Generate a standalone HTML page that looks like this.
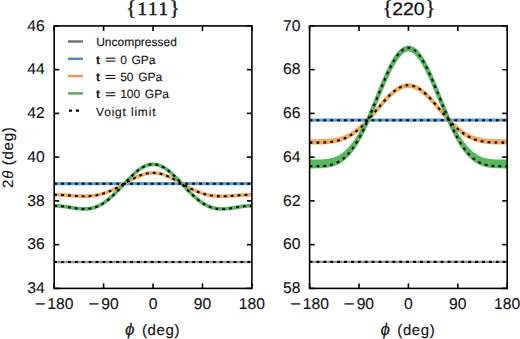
<!DOCTYPE html>
<html><head><meta charset="utf-8"><style>
html,body{margin:0;padding:0;background:#fff;}
body{width:520px;height:339px;overflow:hidden;}
svg{display:block;text-rendering:geometricPrecision;}
text{font-family:"Liberation Sans",sans-serif;fill:#111;stroke:#111;stroke-width:0.12px;}
.tk{font-size:15.7px;}
.lg{font-size:12px;}
.ti{font-size:17.2px;font-family:"Liberation Serif",serif;stroke-width:0.4px;}
.ts{font-size:18px;stroke-width:0.25px;}
.br{font-size:21.2px;font-family:"Liberation Serif",serif;stroke-width:0.3px;}
.ax{font-size:15px;}
</style></head><body>
<svg width="520" height="339" viewBox="0 0 520 339">
<defs></defs>
<g stroke="#000" stroke-width="1.6" fill="none">
<clipPath id="cl"><rect x="54.2" y="25.9" width="197.7" height="262.5"/></clipPath>
<g clip-path="url(#cl)">
<line x1="54.2" x2="251.9" y1="262.0" y2="262.0" stroke="#959595" stroke-width="2.4"/>
<line x1="54.2" x2="251.9" y1="183.7" y2="183.7" stroke="#5C9FD6" stroke-width="3.2"/>
<path d="M54.20,194.81 L55.44,194.81 L56.67,194.83 L57.91,194.86 L59.14,194.89 L60.38,194.94 L61.61,195.00 L62.85,195.06 L64.09,195.13 L65.32,195.21 L66.56,195.30 L67.79,195.38 L69.03,195.47 L70.26,195.57 L71.50,195.66 L72.73,195.75 L73.97,195.84 L75.21,195.93 L76.44,196.01 L77.68,196.08 L78.91,196.14 L80.15,196.19 L81.38,196.23 L82.62,196.26 L83.86,196.27 L85.09,196.27 L86.33,196.25 L87.56,196.21 L88.80,196.14 L90.03,196.06 L91.27,195.95 L92.50,195.82 L93.74,195.67 L94.98,195.49 L96.21,195.28 L97.45,195.05 L98.68,194.79 L99.92,194.50 L101.15,194.18 L102.39,193.83 L103.62,193.46 L104.86,193.06 L106.10,192.63 L107.33,192.17 L108.57,191.68 L109.80,191.17 L111.04,190.64 L112.27,190.07 L113.51,189.49 L114.75,188.89 L115.98,188.26 L117.22,187.62 L118.45,186.96 L119.69,186.29 L120.92,185.60 L122.16,184.91 L123.39,184.21 L124.63,183.50 L125.87,182.80 L127.10,182.09 L128.34,181.39 L129.57,180.70 L130.81,180.02 L132.04,179.35 L133.28,178.70 L134.52,178.07 L135.75,177.46 L136.99,176.88 L138.22,176.33 L139.46,175.81 L140.69,175.32 L141.93,174.88 L143.17,174.47 L144.40,174.10 L145.64,173.78 L146.87,173.51 L148.11,173.28 L149.34,173.11 L150.58,172.98 L151.81,172.90 L153.05,172.88 L154.29,172.90 L155.52,172.98 L156.76,173.11 L157.99,173.28 L159.23,173.51 L160.46,173.78 L161.70,174.10 L162.94,174.47 L164.17,174.88 L165.41,175.32 L166.64,175.81 L167.88,176.33 L169.11,176.88 L170.35,177.46 L171.58,178.07 L172.82,178.70 L174.06,179.35 L175.29,180.02 L176.53,180.70 L177.76,181.39 L179.00,182.09 L180.23,182.80 L181.47,183.50 L182.70,184.21 L183.94,184.91 L185.18,185.60 L186.41,186.29 L187.65,186.96 L188.88,187.62 L190.12,188.26 L191.35,188.89 L192.59,189.49 L193.83,190.07 L195.06,190.64 L196.30,191.17 L197.53,191.68 L198.77,192.17 L200.00,192.63 L201.24,193.06 L202.48,193.46 L203.71,193.83 L204.95,194.18 L206.18,194.50 L207.42,194.79 L208.65,195.05 L209.89,195.28 L211.12,195.49 L212.36,195.67 L213.60,195.82 L214.83,195.95 L216.07,196.06 L217.30,196.14 L218.54,196.21 L219.77,196.25 L221.01,196.27 L222.25,196.27 L223.48,196.26 L224.72,196.23 L225.95,196.19 L227.19,196.14 L228.42,196.08 L229.66,196.01 L230.89,195.93 L232.13,195.84 L233.37,195.75 L234.60,195.66 L235.84,195.57 L237.07,195.47 L238.31,195.38 L239.54,195.30 L240.78,195.21 L242.01,195.13 L243.25,195.06 L244.49,195.00 L245.72,194.94 L246.96,194.89 L248.19,194.86 L249.43,194.83 L250.66,194.81 L251.90,194.81 L251.90,194.70 L250.66,194.70 L249.43,194.72 L248.19,194.75 L246.96,194.78 L245.72,194.83 L244.49,194.88 L243.25,194.95 L242.01,195.02 L240.78,195.10 L239.54,195.18 L238.31,195.27 L237.07,195.36 L235.84,195.45 L234.60,195.54 L233.37,195.63 L232.13,195.72 L230.89,195.80 L229.66,195.88 L228.42,195.95 L227.19,196.02 L225.95,196.07 L224.72,196.11 L223.48,196.14 L222.25,196.15 L221.01,196.14 L219.77,196.12 L218.54,196.08 L217.30,196.02 L216.07,195.94 L214.83,195.83 L213.60,195.70 L212.36,195.55 L211.12,195.37 L209.89,195.17 L208.65,194.93 L207.42,194.67 L206.18,194.39 L204.95,194.07 L203.71,193.73 L202.48,193.36 L201.24,192.96 L200.00,192.54 L198.77,192.08 L197.53,191.60 L196.30,191.10 L195.06,190.57 L193.83,190.01 L192.59,189.43 L191.35,188.83 L190.12,188.22 L188.88,187.58 L187.65,186.93 L186.41,186.26 L185.18,185.58 L183.94,184.90 L182.70,184.20 L181.47,183.50 L180.23,182.81 L179.00,182.11 L177.76,181.41 L176.53,180.73 L175.29,180.05 L174.06,179.39 L172.82,178.75 L171.58,178.12 L170.35,177.52 L169.11,176.95 L167.88,176.40 L166.64,175.89 L165.41,175.41 L164.17,174.96 L162.94,174.56 L161.70,174.20 L160.46,173.88 L159.23,173.61 L157.99,173.39 L156.76,173.21 L155.52,173.09 L154.29,173.01 L153.05,172.98 L151.81,173.01 L150.58,173.09 L149.34,173.21 L148.11,173.39 L146.87,173.61 L145.64,173.88 L144.40,174.20 L143.17,174.56 L141.93,174.96 L140.69,175.41 L139.46,175.89 L138.22,176.40 L136.99,176.95 L135.75,177.52 L134.52,178.12 L133.28,178.75 L132.04,179.39 L130.81,180.05 L129.57,180.73 L128.34,181.41 L127.10,182.11 L125.87,182.81 L124.63,183.50 L123.39,184.20 L122.16,184.90 L120.92,185.58 L119.69,186.26 L118.45,186.93 L117.22,187.58 L115.98,188.22 L114.75,188.83 L113.51,189.43 L112.27,190.01 L111.04,190.57 L109.80,191.10 L108.57,191.60 L107.33,192.08 L106.10,192.54 L104.86,192.96 L103.62,193.36 L102.39,193.73 L101.15,194.07 L99.92,194.39 L98.68,194.67 L97.45,194.93 L96.21,195.17 L94.98,195.37 L93.74,195.55 L92.50,195.70 L91.27,195.83 L90.03,195.94 L88.80,196.02 L87.56,196.08 L86.33,196.12 L85.09,196.14 L83.86,196.15 L82.62,196.14 L81.38,196.11 L80.15,196.07 L78.91,196.02 L77.68,195.95 L76.44,195.88 L75.21,195.80 L73.97,195.72 L72.73,195.63 L71.50,195.54 L70.26,195.45 L69.03,195.36 L67.79,195.27 L66.56,195.18 L65.32,195.10 L64.09,195.02 L62.85,194.95 L61.61,194.88 L60.38,194.83 L59.14,194.78 L57.91,194.75 L56.67,194.72 L55.44,194.70 L54.20,194.70 Z" fill="#F6AA5E" stroke="#F6AA5E" stroke-width="3.5" stroke-linejoin="round"/>
<path d="M54.20,205.90 L55.44,205.91 L56.67,205.95 L57.91,206.01 L59.14,206.08 L60.38,206.18 L61.61,206.30 L62.85,206.44 L64.09,206.59 L65.32,206.76 L66.56,206.94 L67.79,207.13 L69.03,207.32 L70.26,207.52 L71.50,207.72 L72.73,207.92 L73.97,208.11 L75.21,208.29 L76.44,208.47 L77.68,208.62 L78.91,208.76 L80.15,208.87 L81.38,208.96 L82.62,209.02 L83.86,209.04 L85.09,209.03 L86.33,208.99 L87.56,208.90 L88.80,208.76 L90.03,208.58 L91.27,208.35 L92.50,208.07 L93.74,207.74 L94.98,207.35 L96.21,206.91 L97.45,206.41 L98.68,205.85 L99.92,205.24 L101.15,204.57 L102.39,203.84 L103.62,203.05 L104.86,202.21 L106.10,201.32 L107.33,200.38 L108.57,199.38 L109.80,198.34 L111.04,197.25 L112.27,196.11 L113.51,194.94 L114.75,193.74 L115.98,192.50 L117.22,191.24 L118.45,189.95 L119.69,188.64 L120.92,187.32 L122.16,185.99 L123.39,184.66 L124.63,183.33 L125.87,182.00 L127.10,180.69 L128.34,179.39 L129.57,178.11 L130.81,176.87 L132.04,175.65 L133.28,174.47 L134.52,173.34 L135.75,172.25 L136.99,171.21 L138.22,170.24 L139.46,169.32 L140.69,168.47 L141.93,167.68 L143.17,166.97 L144.40,166.34 L145.64,165.78 L146.87,165.31 L148.11,164.92 L149.34,164.61 L150.58,164.39 L151.81,164.26 L153.05,164.21 L154.29,164.26 L155.52,164.39 L156.76,164.61 L157.99,164.92 L159.23,165.31 L160.46,165.78 L161.70,166.34 L162.94,166.97 L164.17,167.68 L165.41,168.47 L166.64,169.32 L167.88,170.24 L169.11,171.21 L170.35,172.25 L171.58,173.34 L172.82,174.47 L174.06,175.65 L175.29,176.87 L176.53,178.11 L177.76,179.39 L179.00,180.69 L180.23,182.00 L181.47,183.33 L182.70,184.66 L183.94,185.99 L185.18,187.32 L186.41,188.64 L187.65,189.95 L188.88,191.24 L190.12,192.50 L191.35,193.74 L192.59,194.94 L193.83,196.11 L195.06,197.25 L196.30,198.34 L197.53,199.38 L198.77,200.38 L200.00,201.32 L201.24,202.21 L202.48,203.05 L203.71,203.84 L204.95,204.57 L206.18,205.24 L207.42,205.85 L208.65,206.41 L209.89,206.91 L211.12,207.35 L212.36,207.74 L213.60,208.07 L214.83,208.35 L216.07,208.58 L217.30,208.76 L218.54,208.90 L219.77,208.99 L221.01,209.03 L222.25,209.04 L223.48,209.02 L224.72,208.96 L225.95,208.87 L227.19,208.76 L228.42,208.62 L229.66,208.47 L230.89,208.29 L232.13,208.11 L233.37,207.92 L234.60,207.72 L235.84,207.52 L237.07,207.32 L238.31,207.13 L239.54,206.94 L240.78,206.76 L242.01,206.59 L243.25,206.44 L244.49,206.30 L245.72,206.18 L246.96,206.08 L248.19,206.01 L249.43,205.95 L250.66,205.91 L251.90,205.90 L251.90,205.68 L250.66,205.69 L249.43,205.73 L248.19,205.78 L246.96,205.86 L245.72,205.96 L244.49,206.08 L243.25,206.21 L242.01,206.36 L240.78,206.53 L239.54,206.71 L238.31,206.89 L237.07,207.09 L235.84,207.28 L234.60,207.48 L233.37,207.68 L232.13,207.87 L230.89,208.05 L229.66,208.22 L228.42,208.37 L227.19,208.51 L225.95,208.62 L224.72,208.71 L223.48,208.76 L222.25,208.79 L221.01,208.78 L219.77,208.73 L218.54,208.64 L217.30,208.51 L216.07,208.33 L214.83,208.11 L213.60,207.83 L212.36,207.50 L211.12,207.12 L209.89,206.68 L208.65,206.18 L207.42,205.63 L206.18,205.02 L204.95,204.36 L203.71,203.64 L202.48,202.86 L201.24,202.03 L200.00,201.14 L198.77,200.21 L197.53,199.22 L196.30,198.19 L195.06,197.11 L193.83,195.99 L192.59,194.83 L191.35,193.64 L190.12,192.41 L188.88,191.16 L187.65,189.89 L186.41,188.59 L185.18,187.29 L183.94,185.97 L182.70,184.65 L181.47,183.33 L180.23,182.02 L179.00,180.72 L177.76,179.43 L176.53,178.17 L175.29,176.93 L174.06,175.73 L172.82,174.56 L171.58,173.44 L170.35,172.36 L169.11,171.34 L167.88,170.37 L166.64,169.46 L165.41,168.62 L164.17,167.84 L162.94,167.14 L161.70,166.51 L160.46,165.96 L159.23,165.49 L157.99,165.10 L156.76,164.80 L155.52,164.58 L154.29,164.45 L153.05,164.41 L151.81,164.45 L150.58,164.58 L149.34,164.80 L148.11,165.10 L146.87,165.49 L145.64,165.96 L144.40,166.51 L143.17,167.14 L141.93,167.84 L140.69,168.62 L139.46,169.46 L138.22,170.37 L136.99,171.34 L135.75,172.36 L134.52,173.44 L133.28,174.56 L132.04,175.73 L130.81,176.93 L129.57,178.17 L128.34,179.43 L127.10,180.72 L125.87,182.02 L124.63,183.33 L123.39,184.65 L122.16,185.97 L120.92,187.29 L119.69,188.59 L118.45,189.89 L117.22,191.16 L115.98,192.41 L114.75,193.64 L113.51,194.83 L112.27,195.99 L111.04,197.11 L109.80,198.19 L108.57,199.22 L107.33,200.21 L106.10,201.14 L104.86,202.03 L103.62,202.86 L102.39,203.64 L101.15,204.36 L99.92,205.02 L98.68,205.63 L97.45,206.18 L96.21,206.68 L94.98,207.12 L93.74,207.50 L92.50,207.83 L91.27,208.11 L90.03,208.33 L88.80,208.51 L87.56,208.64 L86.33,208.73 L85.09,208.78 L83.86,208.79 L82.62,208.76 L81.38,208.71 L80.15,208.62 L78.91,208.51 L77.68,208.37 L76.44,208.22 L75.21,208.05 L73.97,207.87 L72.73,207.68 L71.50,207.48 L70.26,207.28 L69.03,207.09 L67.79,206.89 L66.56,206.71 L65.32,206.53 L64.09,206.36 L62.85,206.21 L61.61,206.08 L60.38,205.96 L59.14,205.86 L57.91,205.78 L56.67,205.73 L55.44,205.69 L54.20,205.68 Z" fill="#57B660" stroke="#57B660" stroke-width="3.5" stroke-linejoin="round"/>
<line x1="54.2" x2="251.9" y1="262.0" y2="262.0" stroke="#000" stroke-width="2.1" stroke-dasharray="2.8 4.1" fill="none"/>
<line x1="54.2" x2="251.9" y1="183.7" y2="183.7" stroke="#000" stroke-width="2.1" stroke-dasharray="2.8 4.1" fill="none"/>
<path d="M54.20,194.81 L55.44,194.81 L56.67,194.83 L57.91,194.86 L59.14,194.89 L60.38,194.94 L61.61,195.00 L62.85,195.06 L64.09,195.13 L65.32,195.21 L66.56,195.30 L67.79,195.38 L69.03,195.47 L70.26,195.57 L71.50,195.66 L72.73,195.75 L73.97,195.84 L75.21,195.93 L76.44,196.01 L77.68,196.08 L78.91,196.14 L80.15,196.19 L81.38,196.23 L82.62,196.26 L83.86,196.27 L85.09,196.27 L86.33,196.25 L87.56,196.21 L88.80,196.14 L90.03,196.06 L91.27,195.95 L92.50,195.82 L93.74,195.67 L94.98,195.49 L96.21,195.28 L97.45,195.05 L98.68,194.79 L99.92,194.50 L101.15,194.18 L102.39,193.83 L103.62,193.46 L104.86,193.06 L106.10,192.63 L107.33,192.17 L108.57,191.68 L109.80,191.17 L111.04,190.64 L112.27,190.07 L113.51,189.49 L114.75,188.89 L115.98,188.26 L117.22,187.62 L118.45,186.96 L119.69,186.29 L120.92,185.60 L122.16,184.91 L123.39,184.21 L124.63,183.50 L125.87,182.80 L127.10,182.09 L128.34,181.39 L129.57,180.70 L130.81,180.02 L132.04,179.35 L133.28,178.70 L134.52,178.07 L135.75,177.46 L136.99,176.88 L138.22,176.33 L139.46,175.81 L140.69,175.32 L141.93,174.88 L143.17,174.47 L144.40,174.10 L145.64,173.78 L146.87,173.51 L148.11,173.28 L149.34,173.11 L150.58,172.98 L151.81,172.90 L153.05,172.88 L154.29,172.90 L155.52,172.98 L156.76,173.11 L157.99,173.28 L159.23,173.51 L160.46,173.78 L161.70,174.10 L162.94,174.47 L164.17,174.88 L165.41,175.32 L166.64,175.81 L167.88,176.33 L169.11,176.88 L170.35,177.46 L171.58,178.07 L172.82,178.70 L174.06,179.35 L175.29,180.02 L176.53,180.70 L177.76,181.39 L179.00,182.09 L180.23,182.80 L181.47,183.50 L182.70,184.21 L183.94,184.91 L185.18,185.60 L186.41,186.29 L187.65,186.96 L188.88,187.62 L190.12,188.26 L191.35,188.89 L192.59,189.49 L193.83,190.07 L195.06,190.64 L196.30,191.17 L197.53,191.68 L198.77,192.17 L200.00,192.63 L201.24,193.06 L202.48,193.46 L203.71,193.83 L204.95,194.18 L206.18,194.50 L207.42,194.79 L208.65,195.05 L209.89,195.28 L211.12,195.49 L212.36,195.67 L213.60,195.82 L214.83,195.95 L216.07,196.06 L217.30,196.14 L218.54,196.21 L219.77,196.25 L221.01,196.27 L222.25,196.27 L223.48,196.26 L224.72,196.23 L225.95,196.19 L227.19,196.14 L228.42,196.08 L229.66,196.01 L230.89,195.93 L232.13,195.84 L233.37,195.75 L234.60,195.66 L235.84,195.57 L237.07,195.47 L238.31,195.38 L239.54,195.30 L240.78,195.21 L242.01,195.13 L243.25,195.06 L244.49,195.00 L245.72,194.94 L246.96,194.89 L248.19,194.86 L249.43,194.83 L250.66,194.81 L251.90,194.81" stroke="#000" stroke-width="2.1" stroke-dasharray="2.8 4.1" fill="none"/>
<path d="M54.20,205.90 L55.44,205.91 L56.67,205.95 L57.91,206.01 L59.14,206.08 L60.38,206.18 L61.61,206.30 L62.85,206.44 L64.09,206.59 L65.32,206.76 L66.56,206.94 L67.79,207.13 L69.03,207.32 L70.26,207.52 L71.50,207.72 L72.73,207.92 L73.97,208.11 L75.21,208.29 L76.44,208.47 L77.68,208.62 L78.91,208.76 L80.15,208.87 L81.38,208.96 L82.62,209.02 L83.86,209.04 L85.09,209.03 L86.33,208.99 L87.56,208.90 L88.80,208.76 L90.03,208.58 L91.27,208.35 L92.50,208.07 L93.74,207.74 L94.98,207.35 L96.21,206.91 L97.45,206.41 L98.68,205.85 L99.92,205.24 L101.15,204.57 L102.39,203.84 L103.62,203.05 L104.86,202.21 L106.10,201.32 L107.33,200.38 L108.57,199.38 L109.80,198.34 L111.04,197.25 L112.27,196.11 L113.51,194.94 L114.75,193.74 L115.98,192.50 L117.22,191.24 L118.45,189.95 L119.69,188.64 L120.92,187.32 L122.16,185.99 L123.39,184.66 L124.63,183.33 L125.87,182.00 L127.10,180.69 L128.34,179.39 L129.57,178.11 L130.81,176.87 L132.04,175.65 L133.28,174.47 L134.52,173.34 L135.75,172.25 L136.99,171.21 L138.22,170.24 L139.46,169.32 L140.69,168.47 L141.93,167.68 L143.17,166.97 L144.40,166.34 L145.64,165.78 L146.87,165.31 L148.11,164.92 L149.34,164.61 L150.58,164.39 L151.81,164.26 L153.05,164.21 L154.29,164.26 L155.52,164.39 L156.76,164.61 L157.99,164.92 L159.23,165.31 L160.46,165.78 L161.70,166.34 L162.94,166.97 L164.17,167.68 L165.41,168.47 L166.64,169.32 L167.88,170.24 L169.11,171.21 L170.35,172.25 L171.58,173.34 L172.82,174.47 L174.06,175.65 L175.29,176.87 L176.53,178.11 L177.76,179.39 L179.00,180.69 L180.23,182.00 L181.47,183.33 L182.70,184.66 L183.94,185.99 L185.18,187.32 L186.41,188.64 L187.65,189.95 L188.88,191.24 L190.12,192.50 L191.35,193.74 L192.59,194.94 L193.83,196.11 L195.06,197.25 L196.30,198.34 L197.53,199.38 L198.77,200.38 L200.00,201.32 L201.24,202.21 L202.48,203.05 L203.71,203.84 L204.95,204.57 L206.18,205.24 L207.42,205.85 L208.65,206.41 L209.89,206.91 L211.12,207.35 L212.36,207.74 L213.60,208.07 L214.83,208.35 L216.07,208.58 L217.30,208.76 L218.54,208.90 L219.77,208.99 L221.01,209.03 L222.25,209.04 L223.48,209.02 L224.72,208.96 L225.95,208.87 L227.19,208.76 L228.42,208.62 L229.66,208.47 L230.89,208.29 L232.13,208.11 L233.37,207.92 L234.60,207.72 L235.84,207.52 L237.07,207.32 L238.31,207.13 L239.54,206.94 L240.78,206.76 L242.01,206.59 L243.25,206.44 L244.49,206.30 L245.72,206.18 L246.96,206.08 L248.19,206.01 L249.43,205.95 L250.66,205.91 L251.90,205.90" stroke="#000" stroke-width="2.1" stroke-dasharray="2.8 4.1" fill="none"/>
</g>
<line x1="54.2" x2="59.2" y1="25.90" y2="25.90"/>
<line x1="246.9" x2="251.9" y1="25.90" y2="25.90"/>
<line x1="54.2" x2="59.2" y1="69.65" y2="69.65"/>
<line x1="246.9" x2="251.9" y1="69.65" y2="69.65"/>
<line x1="54.2" x2="59.2" y1="113.40" y2="113.40"/>
<line x1="246.9" x2="251.9" y1="113.40" y2="113.40"/>
<line x1="54.2" x2="59.2" y1="157.15" y2="157.15"/>
<line x1="246.9" x2="251.9" y1="157.15" y2="157.15"/>
<line x1="54.2" x2="59.2" y1="200.90" y2="200.90"/>
<line x1="246.9" x2="251.9" y1="200.90" y2="200.90"/>
<line x1="54.2" x2="59.2" y1="244.65" y2="244.65"/>
<line x1="246.9" x2="251.9" y1="244.65" y2="244.65"/>
<line x1="54.2" x2="59.2" y1="288.40" y2="288.40"/>
<line x1="246.9" x2="251.9" y1="288.40" y2="288.40"/>
<line x1="54.20" x2="54.20" y1="288.4" y2="283.4"/>
<line x1="54.20" x2="54.20" y1="25.9" y2="30.9"/>
<line x1="103.62" x2="103.62" y1="288.4" y2="283.4"/>
<line x1="103.62" x2="103.62" y1="25.9" y2="30.9"/>
<line x1="153.05" x2="153.05" y1="288.4" y2="283.4"/>
<line x1="153.05" x2="153.05" y1="25.9" y2="30.9"/>
<line x1="202.47" x2="202.47" y1="288.4" y2="283.4"/>
<line x1="202.47" x2="202.47" y1="25.9" y2="30.9"/>
<line x1="251.90" x2="251.90" y1="288.4" y2="283.4"/>
<line x1="251.90" x2="251.90" y1="25.9" y2="30.9"/>
<rect x="54.2" y="25.9" width="197.70" height="262.5" fill="none"/>
<clipPath id="cr"><rect x="309.6" y="25.9" width="197.59999999999997" height="262.5"/></clipPath>
<g clip-path="url(#cr)">
<line x1="309.6" x2="507.2" y1="261.9" y2="261.9" stroke="#959595" stroke-width="2.4"/>
<line x1="309.6" x2="507.2" y1="120.2" y2="120.2" stroke="#5C9FD6" stroke-width="3.2"/>
<path d="M309.60,142.62 L310.84,142.62 L312.07,142.62 L313.31,142.62 L314.54,142.62 L315.78,142.61 L317.01,142.60 L318.25,142.59 L319.48,142.57 L320.72,142.55 L321.95,142.52 L323.19,142.48 L324.42,142.43 L325.66,142.37 L326.89,142.29 L328.12,142.19 L329.36,142.08 L330.60,141.95 L331.83,141.79 L333.06,141.61 L334.30,141.40 L335.54,141.16 L336.77,140.90 L338.00,140.59 L339.24,140.26 L340.48,139.89 L341.71,139.47 L342.95,139.02 L344.18,138.53 L345.42,137.99 L346.65,137.41 L347.88,136.78 L349.12,136.11 L350.36,135.39 L351.59,134.62 L352.83,133.80 L354.06,132.93 L355.30,132.02 L356.53,131.05 L357.76,130.04 L359.00,128.98 L360.24,127.88 L361.47,126.73 L362.71,125.54 L363.94,124.31 L365.18,123.04 L366.41,121.74 L367.65,120.40 L368.88,119.03 L370.12,117.64 L371.35,116.22 L372.59,114.78 L373.82,113.32 L375.06,111.85 L376.29,110.38 L377.53,108.90 L378.76,107.43 L380.00,105.96 L381.23,104.50 L382.47,103.06 L383.70,101.64 L384.94,100.25 L386.17,98.89 L387.41,97.57 L388.64,96.29 L389.88,95.06 L391.11,93.88 L392.35,92.76 L393.58,91.70 L394.81,90.71 L396.05,89.79 L397.29,88.94 L398.52,88.17 L399.75,87.49 L400.99,86.89 L402.23,86.37 L403.46,85.95 L404.69,85.62 L405.93,85.38 L407.17,85.24 L408.40,85.19 L409.63,85.24 L410.87,85.38 L412.11,85.62 L413.34,85.95 L414.58,86.37 L415.81,86.89 L417.05,87.49 L418.28,88.17 L419.51,88.94 L420.75,89.79 L421.99,90.71 L423.22,91.70 L424.46,92.76 L425.69,93.88 L426.93,95.06 L428.16,96.29 L429.39,97.57 L430.63,98.89 L431.87,100.25 L433.10,101.64 L434.34,103.06 L435.57,104.50 L436.81,105.96 L438.04,107.43 L439.27,108.90 L440.51,110.38 L441.75,111.85 L442.98,113.32 L444.22,114.78 L445.45,116.22 L446.69,117.64 L447.92,119.03 L449.15,120.40 L450.39,121.74 L451.62,123.04 L452.86,124.31 L454.10,125.54 L455.33,126.73 L456.56,127.88 L457.80,128.98 L459.03,130.04 L460.27,131.05 L461.50,132.02 L462.74,132.93 L463.98,133.80 L465.21,134.62 L466.44,135.39 L467.68,136.11 L468.92,136.78 L470.15,137.41 L471.38,137.99 L472.62,138.53 L473.86,139.02 L475.09,139.47 L476.33,139.89 L477.56,140.26 L478.80,140.59 L480.03,140.90 L481.26,141.16 L482.50,141.40 L483.74,141.61 L484.97,141.79 L486.21,141.95 L487.44,142.08 L488.68,142.19 L489.91,142.29 L491.14,142.37 L492.38,142.43 L493.62,142.48 L494.85,142.52 L496.09,142.55 L497.32,142.57 L498.56,142.59 L499.79,142.60 L501.02,142.61 L502.26,142.62 L503.50,142.62 L504.73,142.62 L505.97,142.62 L507.20,142.62 L507.20,141.05 L505.97,141.05 L504.73,141.05 L503.50,141.05 L502.26,141.05 L501.02,141.04 L499.79,141.03 L498.56,141.02 L497.32,141.01 L496.09,140.99 L494.85,140.96 L493.62,140.92 L492.38,140.87 L491.14,140.81 L489.91,140.74 L488.68,140.65 L487.44,140.55 L486.21,140.42 L484.97,140.28 L483.74,140.11 L482.50,139.92 L481.26,139.70 L480.03,139.45 L478.80,139.17 L477.56,138.85 L476.33,138.51 L475.09,138.13 L473.86,137.71 L472.62,137.25 L471.38,136.75 L470.15,136.21 L468.92,135.62 L467.68,134.99 L466.44,134.32 L465.21,133.61 L463.98,132.85 L462.74,132.04 L461.50,131.19 L460.27,130.29 L459.03,129.35 L457.80,128.37 L456.56,127.34 L455.33,126.28 L454.10,125.17 L452.86,124.02 L451.62,122.84 L450.39,121.63 L449.15,120.39 L447.92,119.06 L446.69,117.70 L445.45,116.32 L444.22,114.91 L442.98,113.49 L441.75,112.06 L440.51,110.62 L439.27,109.18 L438.04,107.74 L436.81,106.31 L435.57,104.89 L434.34,103.49 L433.10,102.10 L431.87,100.75 L430.63,99.42 L429.39,98.13 L428.16,96.89 L426.93,95.68 L425.69,94.54 L424.46,93.44 L423.22,92.41 L421.99,91.44 L420.75,90.55 L419.51,89.72 L418.28,88.97 L417.05,88.30 L415.81,87.72 L414.58,87.22 L413.34,86.81 L412.11,86.48 L410.87,86.25 L409.63,86.11 L408.40,86.07 L407.17,86.11 L405.93,86.25 L404.69,86.48 L403.46,86.81 L402.23,87.22 L400.99,87.72 L399.75,88.30 L398.52,88.97 L397.29,89.72 L396.05,90.55 L394.81,91.44 L393.58,92.41 L392.35,93.44 L391.11,94.54 L389.88,95.68 L388.64,96.89 L387.41,98.13 L386.17,99.42 L384.94,100.75 L383.70,102.10 L382.47,103.49 L381.23,104.89 L380.00,106.31 L378.76,107.74 L377.53,109.18 L376.29,110.62 L375.06,112.06 L373.82,113.49 L372.59,114.91 L371.35,116.32 L370.12,117.70 L368.88,119.06 L367.65,120.39 L366.41,121.63 L365.18,122.84 L363.94,124.02 L362.71,125.17 L361.47,126.28 L360.24,127.34 L359.00,128.37 L357.76,129.35 L356.53,130.29 L355.30,131.19 L354.06,132.04 L352.83,132.85 L351.59,133.61 L350.36,134.32 L349.12,134.99 L347.88,135.62 L346.65,136.21 L345.42,136.75 L344.18,137.25 L342.95,137.71 L341.71,138.13 L340.48,138.51 L339.24,138.85 L338.00,139.17 L336.77,139.45 L335.54,139.70 L334.30,139.92 L333.06,140.11 L331.83,140.28 L330.60,140.42 L329.36,140.55 L328.12,140.65 L326.89,140.74 L325.66,140.81 L324.42,140.87 L323.19,140.92 L321.95,140.96 L320.72,140.99 L319.48,141.01 L318.25,141.02 L317.01,141.03 L315.78,141.04 L314.54,141.05 L313.31,141.05 L312.07,141.05 L310.84,141.05 L309.60,141.05 Z" fill="#F6AA5E" stroke="#F6AA5E" stroke-width="3.8" stroke-linejoin="round"/>
<path d="M309.60,166.28 L310.84,166.28 L312.07,166.28 L313.31,166.28 L314.54,166.27 L315.78,166.26 L317.01,166.24 L318.25,166.22 L319.48,166.18 L320.72,166.14 L321.95,166.07 L323.19,165.99 L324.42,165.89 L325.66,165.76 L326.89,165.59 L328.12,165.40 L329.36,165.17 L330.60,164.90 L331.83,164.57 L333.06,164.20 L334.30,163.78 L335.54,163.29 L336.77,162.74 L338.00,162.13 L339.24,161.44 L340.48,160.67 L341.71,159.83 L342.95,158.90 L344.18,157.89 L345.42,156.79 L346.65,155.59 L347.88,154.31 L349.12,152.92 L350.36,151.44 L351.59,149.86 L352.83,148.18 L354.06,146.40 L355.30,144.52 L356.53,142.54 L357.76,140.46 L359.00,138.28 L360.24,136.02 L361.47,133.65 L362.71,131.21 L363.94,128.67 L365.18,126.06 L366.41,123.37 L367.65,120.61 L368.88,117.79 L370.12,114.91 L371.35,111.98 L372.59,109.01 L373.82,106.01 L375.06,102.98 L376.29,99.94 L377.53,96.88 L378.76,93.83 L380.00,90.80 L381.23,87.78 L382.47,84.80 L383.70,81.87 L384.94,78.99 L386.17,76.17 L387.41,73.44 L388.64,70.79 L389.88,68.24 L391.11,65.79 L392.35,63.47 L393.58,61.28 L394.81,59.22 L396.05,57.31 L397.29,55.55 L398.52,53.96 L399.75,52.54 L400.99,51.29 L402.23,50.23 L403.46,49.35 L404.69,48.67 L405.93,48.17 L407.17,47.88 L408.40,47.78 L409.63,47.88 L410.87,48.17 L412.11,48.67 L413.34,49.35 L414.58,50.23 L415.81,51.29 L417.05,52.54 L418.28,53.96 L419.51,55.55 L420.75,57.31 L421.99,59.22 L423.22,61.28 L424.46,63.47 L425.69,65.79 L426.93,68.24 L428.16,70.79 L429.39,73.44 L430.63,76.17 L431.87,78.99 L433.10,81.87 L434.34,84.80 L435.57,87.78 L436.81,90.80 L438.04,93.83 L439.27,96.88 L440.51,99.94 L441.75,102.98 L442.98,106.01 L444.22,109.01 L445.45,111.98 L446.69,114.91 L447.92,117.79 L449.15,120.61 L450.39,123.37 L451.62,126.06 L452.86,128.67 L454.10,131.21 L455.33,133.65 L456.56,136.02 L457.80,138.28 L459.03,140.46 L460.27,142.54 L461.50,144.52 L462.74,146.40 L463.98,148.18 L465.21,149.86 L466.44,151.44 L467.68,152.92 L468.92,154.31 L470.15,155.59 L471.38,156.79 L472.62,157.89 L473.86,158.90 L475.09,159.83 L476.33,160.67 L477.56,161.44 L478.80,162.13 L480.03,162.74 L481.26,163.29 L482.50,163.78 L483.74,164.20 L484.97,164.57 L486.21,164.90 L487.44,165.17 L488.68,165.40 L489.91,165.59 L491.14,165.76 L492.38,165.89 L493.62,165.99 L494.85,166.07 L496.09,166.14 L497.32,166.18 L498.56,166.22 L499.79,166.24 L501.02,166.26 L502.26,166.27 L503.50,166.28 L504.73,166.28 L505.97,166.28 L507.20,166.28 L507.20,161.68 L505.97,161.68 L504.73,161.67 L503.50,161.67 L502.26,161.66 L501.02,161.65 L499.79,161.64 L498.56,161.62 L497.32,161.58 L496.09,161.54 L494.85,161.49 L493.62,161.41 L492.38,161.32 L491.14,161.20 L489.91,161.06 L488.68,160.88 L487.44,160.67 L486.21,160.43 L484.97,160.14 L483.74,159.80 L482.50,159.42 L481.26,158.98 L480.03,158.49 L478.80,157.93 L477.56,157.31 L476.33,156.63 L475.09,155.87 L473.86,155.03 L472.62,154.12 L471.38,153.13 L470.15,152.05 L468.92,150.90 L467.68,149.65 L466.44,148.32 L465.21,146.89 L463.98,145.38 L462.74,143.78 L461.50,142.09 L460.27,140.30 L459.03,138.43 L457.80,136.48 L456.56,134.43 L455.33,132.31 L454.10,130.11 L452.86,127.83 L451.62,125.47 L450.39,123.05 L449.15,120.57 L447.92,117.84 L446.69,115.03 L445.45,112.17 L444.22,109.26 L442.98,106.32 L441.75,103.36 L440.51,100.38 L439.27,97.40 L438.04,94.41 L436.81,91.44 L435.57,88.49 L434.34,85.58 L433.10,82.71 L431.87,79.89 L430.63,77.14 L429.39,74.46 L428.16,71.87 L426.93,69.38 L425.69,66.99 L424.46,64.72 L423.22,62.57 L421.99,60.56 L420.75,58.69 L419.51,56.98 L418.28,55.42 L417.05,54.03 L415.81,52.81 L414.58,51.77 L413.34,50.91 L412.11,50.24 L410.87,49.76 L409.63,49.47 L408.40,49.37 L407.17,49.47 L405.93,49.76 L404.69,50.24 L403.46,50.91 L402.23,51.77 L400.99,52.81 L399.75,54.03 L398.52,55.42 L397.29,56.98 L396.05,58.69 L394.81,60.56 L393.58,62.57 L392.35,64.72 L391.11,66.99 L389.88,69.38 L388.64,71.87 L387.41,74.46 L386.17,77.14 L384.94,79.89 L383.70,82.71 L382.47,85.58 L381.23,88.49 L380.00,91.44 L378.76,94.41 L377.53,97.40 L376.29,100.38 L375.06,103.36 L373.82,106.32 L372.59,109.26 L371.35,112.17 L370.12,115.03 L368.88,117.84 L367.65,120.57 L366.41,123.05 L365.18,125.47 L363.94,127.83 L362.71,130.11 L361.47,132.31 L360.24,134.43 L359.00,136.48 L357.76,138.43 L356.53,140.30 L355.30,142.09 L354.06,143.78 L352.83,145.38 L351.59,146.89 L350.36,148.32 L349.12,149.65 L347.88,150.90 L346.65,152.05 L345.42,153.13 L344.18,154.12 L342.95,155.03 L341.71,155.87 L340.48,156.63 L339.24,157.31 L338.00,157.93 L336.77,158.49 L335.54,158.98 L334.30,159.42 L333.06,159.80 L331.83,160.14 L330.60,160.43 L329.36,160.67 L328.12,160.88 L326.89,161.06 L325.66,161.20 L324.42,161.32 L323.19,161.41 L321.95,161.49 L320.72,161.54 L319.48,161.58 L318.25,161.62 L317.01,161.64 L315.78,161.65 L314.54,161.66 L313.31,161.67 L312.07,161.67 L310.84,161.68 L309.60,161.68 Z" fill="#57B660" stroke="#57B660" stroke-width="4.2" stroke-linejoin="round"/>
<line x1="309.6" x2="507.2" y1="261.9" y2="261.9" stroke="#000" stroke-width="2.1" stroke-dasharray="2.8 4.1" fill="none"/>
<line x1="309.6" x2="507.2" y1="120.2" y2="120.2" stroke="#000" stroke-width="2.1" stroke-dasharray="2.8 4.1" fill="none"/>
<path d="M309.60,142.62 L310.84,142.62 L312.07,142.62 L313.31,142.62 L314.54,142.62 L315.78,142.61 L317.01,142.60 L318.25,142.59 L319.48,142.57 L320.72,142.55 L321.95,142.52 L323.19,142.48 L324.42,142.43 L325.66,142.37 L326.89,142.29 L328.12,142.19 L329.36,142.08 L330.60,141.95 L331.83,141.79 L333.06,141.61 L334.30,141.40 L335.54,141.16 L336.77,140.90 L338.00,140.59 L339.24,140.26 L340.48,139.89 L341.71,139.47 L342.95,139.02 L344.18,138.53 L345.42,137.99 L346.65,137.41 L347.88,136.78 L349.12,136.11 L350.36,135.39 L351.59,134.62 L352.83,133.80 L354.06,132.93 L355.30,132.02 L356.53,131.05 L357.76,130.04 L359.00,128.98 L360.24,127.88 L361.47,126.73 L362.71,125.54 L363.94,124.31 L365.18,123.04 L366.41,121.74 L367.65,120.40 L368.88,119.03 L370.12,117.64 L371.35,116.22 L372.59,114.78 L373.82,113.32 L375.06,111.85 L376.29,110.38 L377.53,108.90 L378.76,107.43 L380.00,105.96 L381.23,104.50 L382.47,103.06 L383.70,101.64 L384.94,100.25 L386.17,98.89 L387.41,97.57 L388.64,96.29 L389.88,95.06 L391.11,93.88 L392.35,92.76 L393.58,91.70 L394.81,90.71 L396.05,89.79 L397.29,88.94 L398.52,88.17 L399.75,87.49 L400.99,86.89 L402.23,86.37 L403.46,85.95 L404.69,85.62 L405.93,85.38 L407.17,85.24 L408.40,85.19 L409.63,85.24 L410.87,85.38 L412.11,85.62 L413.34,85.95 L414.58,86.37 L415.81,86.89 L417.05,87.49 L418.28,88.17 L419.51,88.94 L420.75,89.79 L421.99,90.71 L423.22,91.70 L424.46,92.76 L425.69,93.88 L426.93,95.06 L428.16,96.29 L429.39,97.57 L430.63,98.89 L431.87,100.25 L433.10,101.64 L434.34,103.06 L435.57,104.50 L436.81,105.96 L438.04,107.43 L439.27,108.90 L440.51,110.38 L441.75,111.85 L442.98,113.32 L444.22,114.78 L445.45,116.22 L446.69,117.64 L447.92,119.03 L449.15,120.40 L450.39,121.74 L451.62,123.04 L452.86,124.31 L454.10,125.54 L455.33,126.73 L456.56,127.88 L457.80,128.98 L459.03,130.04 L460.27,131.05 L461.50,132.02 L462.74,132.93 L463.98,133.80 L465.21,134.62 L466.44,135.39 L467.68,136.11 L468.92,136.78 L470.15,137.41 L471.38,137.99 L472.62,138.53 L473.86,139.02 L475.09,139.47 L476.33,139.89 L477.56,140.26 L478.80,140.59 L480.03,140.90 L481.26,141.16 L482.50,141.40 L483.74,141.61 L484.97,141.79 L486.21,141.95 L487.44,142.08 L488.68,142.19 L489.91,142.29 L491.14,142.37 L492.38,142.43 L493.62,142.48 L494.85,142.52 L496.09,142.55 L497.32,142.57 L498.56,142.59 L499.79,142.60 L501.02,142.61 L502.26,142.62 L503.50,142.62 L504.73,142.62 L505.97,142.62 L507.20,142.62" stroke="#000" stroke-width="2.1" stroke-dasharray="2.8 4.1" fill="none"/>
<path d="M309.60,166.28 L310.84,166.28 L312.07,166.28 L313.31,166.28 L314.54,166.27 L315.78,166.26 L317.01,166.24 L318.25,166.22 L319.48,166.18 L320.72,166.14 L321.95,166.07 L323.19,165.99 L324.42,165.89 L325.66,165.76 L326.89,165.59 L328.12,165.40 L329.36,165.17 L330.60,164.90 L331.83,164.57 L333.06,164.20 L334.30,163.78 L335.54,163.29 L336.77,162.74 L338.00,162.13 L339.24,161.44 L340.48,160.67 L341.71,159.83 L342.95,158.90 L344.18,157.89 L345.42,156.79 L346.65,155.59 L347.88,154.31 L349.12,152.92 L350.36,151.44 L351.59,149.86 L352.83,148.18 L354.06,146.40 L355.30,144.52 L356.53,142.54 L357.76,140.46 L359.00,138.28 L360.24,136.02 L361.47,133.65 L362.71,131.21 L363.94,128.67 L365.18,126.06 L366.41,123.37 L367.65,120.61 L368.88,117.79 L370.12,114.91 L371.35,111.98 L372.59,109.01 L373.82,106.01 L375.06,102.98 L376.29,99.94 L377.53,96.88 L378.76,93.83 L380.00,90.80 L381.23,87.78 L382.47,84.80 L383.70,81.87 L384.94,78.99 L386.17,76.17 L387.41,73.44 L388.64,70.79 L389.88,68.24 L391.11,65.79 L392.35,63.47 L393.58,61.28 L394.81,59.22 L396.05,57.31 L397.29,55.55 L398.52,53.96 L399.75,52.54 L400.99,51.29 L402.23,50.23 L403.46,49.35 L404.69,48.67 L405.93,48.17 L407.17,47.88 L408.40,47.78 L409.63,47.88 L410.87,48.17 L412.11,48.67 L413.34,49.35 L414.58,50.23 L415.81,51.29 L417.05,52.54 L418.28,53.96 L419.51,55.55 L420.75,57.31 L421.99,59.22 L423.22,61.28 L424.46,63.47 L425.69,65.79 L426.93,68.24 L428.16,70.79 L429.39,73.44 L430.63,76.17 L431.87,78.99 L433.10,81.87 L434.34,84.80 L435.57,87.78 L436.81,90.80 L438.04,93.83 L439.27,96.88 L440.51,99.94 L441.75,102.98 L442.98,106.01 L444.22,109.01 L445.45,111.98 L446.69,114.91 L447.92,117.79 L449.15,120.61 L450.39,123.37 L451.62,126.06 L452.86,128.67 L454.10,131.21 L455.33,133.65 L456.56,136.02 L457.80,138.28 L459.03,140.46 L460.27,142.54 L461.50,144.52 L462.74,146.40 L463.98,148.18 L465.21,149.86 L466.44,151.44 L467.68,152.92 L468.92,154.31 L470.15,155.59 L471.38,156.79 L472.62,157.89 L473.86,158.90 L475.09,159.83 L476.33,160.67 L477.56,161.44 L478.80,162.13 L480.03,162.74 L481.26,163.29 L482.50,163.78 L483.74,164.20 L484.97,164.57 L486.21,164.90 L487.44,165.17 L488.68,165.40 L489.91,165.59 L491.14,165.76 L492.38,165.89 L493.62,165.99 L494.85,166.07 L496.09,166.14 L497.32,166.18 L498.56,166.22 L499.79,166.24 L501.02,166.26 L502.26,166.27 L503.50,166.28 L504.73,166.28 L505.97,166.28 L507.20,166.28" stroke="#000" stroke-width="2.1" stroke-dasharray="2.8 4.1" fill="none"/>
</g>
<line x1="309.6" x2="314.6" y1="25.90" y2="25.90"/>
<line x1="502.2" x2="507.2" y1="25.90" y2="25.90"/>
<line x1="309.6" x2="314.6" y1="69.65" y2="69.65"/>
<line x1="502.2" x2="507.2" y1="69.65" y2="69.65"/>
<line x1="309.6" x2="314.6" y1="113.40" y2="113.40"/>
<line x1="502.2" x2="507.2" y1="113.40" y2="113.40"/>
<line x1="309.6" x2="314.6" y1="157.15" y2="157.15"/>
<line x1="502.2" x2="507.2" y1="157.15" y2="157.15"/>
<line x1="309.6" x2="314.6" y1="200.90" y2="200.90"/>
<line x1="502.2" x2="507.2" y1="200.90" y2="200.90"/>
<line x1="309.6" x2="314.6" y1="244.65" y2="244.65"/>
<line x1="502.2" x2="507.2" y1="244.65" y2="244.65"/>
<line x1="309.6" x2="314.6" y1="288.40" y2="288.40"/>
<line x1="502.2" x2="507.2" y1="288.40" y2="288.40"/>
<line x1="309.60" x2="309.60" y1="288.4" y2="283.4"/>
<line x1="309.60" x2="309.60" y1="25.9" y2="30.9"/>
<line x1="359.00" x2="359.00" y1="288.4" y2="283.4"/>
<line x1="359.00" x2="359.00" y1="25.9" y2="30.9"/>
<line x1="408.40" x2="408.40" y1="288.4" y2="283.4"/>
<line x1="408.40" x2="408.40" y1="25.9" y2="30.9"/>
<line x1="457.80" x2="457.80" y1="288.4" y2="283.4"/>
<line x1="457.80" x2="457.80" y1="25.9" y2="30.9"/>
<line x1="507.20" x2="507.20" y1="288.4" y2="283.4"/>
<line x1="507.20" x2="507.20" y1="25.9" y2="30.9"/>
<rect x="309.6" y="25.9" width="197.60" height="262.5" fill="none"/>
</g>
<g class="tk">
<text x="44.7" y="293.2" text-anchor="end">34</text>
<text x="44.7" y="249.4" text-anchor="end">36</text>
<text x="44.7" y="205.7" text-anchor="end">38</text>
<text x="44.7" y="161.9" text-anchor="end">40</text>
<text x="44.7" y="118.2" text-anchor="end">42</text>
<text x="44.7" y="74.4" text-anchor="end">44</text>
<text x="44.7" y="30.7" text-anchor="end">46</text>
<line x1="35.7" x2="44.9" y1="303.9" y2="303.9" stroke="#111" stroke-width="1.35"/>
<text x="73.5" y="309.3" text-anchor="end">180</text>
<line x1="89.2" x2="98.4" y1="303.9" y2="303.9" stroke="#111" stroke-width="1.35"/>
<text x="118.7" y="309.3" text-anchor="end">90</text>
<text x="153.1" y="309.3" text-anchor="middle">0</text>
<text x="202.5" y="309.3" text-anchor="middle">90</text>
<text x="251.9" y="309.3" text-anchor="middle">180</text>
<text x="300.4" y="293.2" text-anchor="end">58</text>
<text x="300.4" y="249.4" text-anchor="end">60</text>
<text x="300.4" y="205.7" text-anchor="end">62</text>
<text x="300.4" y="161.9" text-anchor="end">64</text>
<text x="300.4" y="118.2" text-anchor="end">66</text>
<text x="300.4" y="74.4" text-anchor="end">68</text>
<text x="300.4" y="30.7" text-anchor="end">70</text>
<line x1="291.1" x2="300.2" y1="303.9" y2="303.9" stroke="#111" stroke-width="1.35"/>
<text x="328.9" y="309.3" text-anchor="end">180</text>
<line x1="344.6" x2="353.8" y1="303.9" y2="303.9" stroke="#111" stroke-width="1.35"/>
<text x="374.1" y="309.3" text-anchor="end">90</text>
<text x="408.4" y="309.3" text-anchor="middle">0</text>
<text x="457.8" y="309.3" text-anchor="middle">90</text>
<text x="507.2" y="309.3" text-anchor="middle">180</text>
</g>
<text class="br" x="126.1" y="14.9">{</text>
<text class="ti" x="137.6" y="14.5" textLength="30.6" lengthAdjust="spacing" style="font-size:19.2px">111</text>
<text class="br" x="169.5" y="14.9">}</text>
<text class="br" x="382.5" y="14.9">{</text>
<text class="ts" x="392.2" y="14.6" textLength="32.4" lengthAdjust="spacingAndGlyphs">220</text>
<text class="br" x="425.3" y="14.9">}</text>
<text x="125.0" y="335.3" class="ax" font-style="italic" style="font-size:17px;stroke-width:0.12px">ϕ</text>
<text x="142.0" y="335.3" class="ax" textLength="37.4" lengthAdjust="spacing">(deg)</text>
<text x="380.6" y="335.3" class="ax" font-style="italic" style="font-size:17px;stroke-width:0.12px">ϕ</text>
<text x="397.3" y="335.3" class="ax" textLength="37.4" lengthAdjust="spacing">(deg)</text>
<text transform="translate(12.6,187.9) rotate(-90)" class="ax" textLength="60.6" lengthAdjust="spacing">2<tspan font-style="italic">θ</tspan> (deg)</text>
<line x1="68" x2="83" y1="41.5" y2="41.5" stroke="#6e6e6e" stroke-width="2.4"/>
<text x="96.2" y="46.4" class="lg">Uncompressed</text>
<line x1="68" x2="83" y1="58.8" y2="58.8" stroke="#4d88bf" stroke-width="2.4"/>
<text x="95.9" y="63.7" class="lg" font-weight="bold">t</text>
<line x1="105.8" x2="115.4" y1="58.2" y2="58.2" stroke="#111" stroke-width="1.1"/>
<line x1="105.8" x2="115.4" y1="61.1" y2="61.1" stroke="#111" stroke-width="1.1"/>
<text x="120.2" y="63.7" class="lg" word-spacing="1.3">0 GPa</text>
<line x1="68" x2="83" y1="76.1" y2="76.1" stroke="#e39a4f" stroke-width="2.4"/>
<text x="95.9" y="81.0" class="lg" font-weight="bold">t</text>
<line x1="105.8" x2="115.4" y1="75.5" y2="75.5" stroke="#111" stroke-width="1.1"/>
<line x1="105.8" x2="115.4" y1="78.4" y2="78.4" stroke="#111" stroke-width="1.1"/>
<text x="120.2" y="81.0" class="lg" word-spacing="1.3">50 GPa</text>
<line x1="68" x2="83" y1="93.4" y2="93.4" stroke="#55a65c" stroke-width="2.4"/>
<text x="95.9" y="98.3" class="lg" font-weight="bold">t</text>
<line x1="105.8" x2="115.4" y1="92.8" y2="92.8" stroke="#111" stroke-width="1.1"/>
<line x1="105.8" x2="115.4" y1="95.7" y2="95.7" stroke="#111" stroke-width="1.1"/>
<text x="120.2" y="98.3" class="lg" word-spacing="1.3">100 GPa</text>
<line x1="68" x2="83" y1="110.7" y2="110.7" stroke="#000" stroke-width="2.3" stroke-dasharray="3 4" stroke-dashoffset="-1"/>
<text x="96.0" y="115.6" class="lg" textLength="59.5" lengthAdjust="spacing">Voigt limit</text>
</svg>
</body></html>
